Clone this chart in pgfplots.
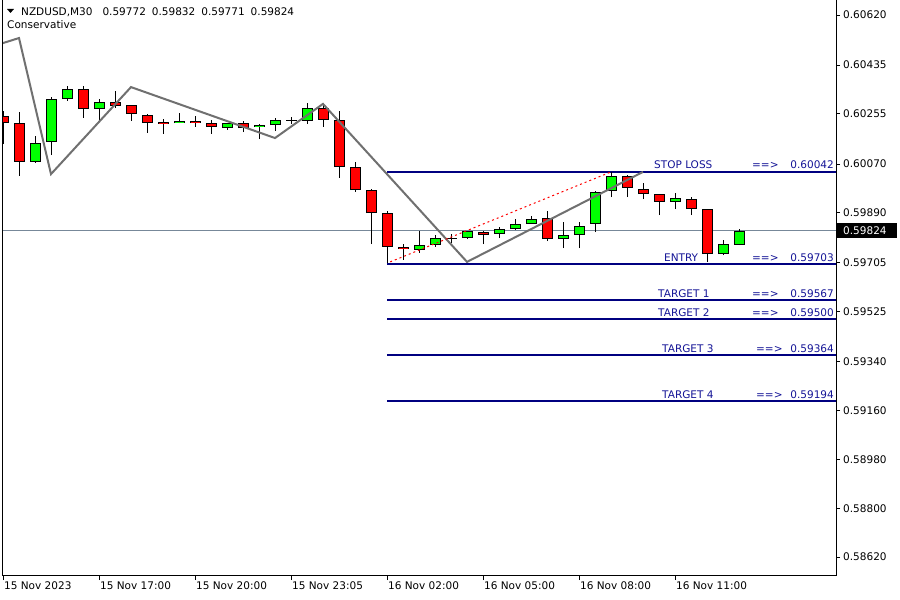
\documentclass[border=0pt]{standalone}
\usepackage{pgfplots}
\pgfplotsset{compat=1.18}
\usepackage{pgfplotstable}
\usepackage{fontspec}
\setmainfont{DejaVu Sans}
\definecolor{bullc}{RGB}{0,255,0}
\definecolor{bearc}{RGB}{255,0,0}
\definecolor{lvl}{RGB}{0,0,128}
\definecolor{lvltxt}{RGB}{20,20,150}
\definecolor{zz}{RGB}{112,112,112}
\definecolor{pline}{RGB}{119,136,153}

\pgfplotstableread{
x o h l c
2 0.60078 0.60174 0.60074 0.60148
3 0.60151 0.60317 0.60103 0.60310
4 0.60310 0.60358 0.60303 0.60347
6 0.60273 0.60310 0.60229 0.60299
11 0.60221 0.60258 0.60221 0.60229
14 0.60203 0.60221 0.60196 0.60221
16 0.60207 0.60218 0.60162 0.60214
17 0.60214 0.60240 0.60192 0.60233
19 0.60229 0.60295 0.60218 0.60277
26 0.59753 0.59823 0.59742 0.59771
27 0.59771 0.59808 0.59764 0.59797
29 0.59797 0.59823 0.59793 0.59823
31 0.59812 0.59838 0.59797 0.59830
32 0.59830 0.59867 0.59827 0.59849
33 0.59849 0.59878 0.59849 0.59867
35 0.59793 0.59856 0.59760 0.59808
36 0.59808 0.59856 0.59760 0.59841
37 0.59849 0.59971 0.59819 0.59967
38 0.59971 0.60041 0.59948 0.60026
42 0.59930 0.59963 0.59904 0.59945
45 0.59738 0.59790 0.59734 0.59775
46 0.59772 0.59832 0.59771 0.59824
}\bull

\pgfplotstableread{
x o h l c
0 0.60247 0.60266 0.60144 0.60221
1 0.60221 0.60262 0.60026 0.60078
5 0.60347 0.60358 0.60240 0.60273
7 0.60299 0.60340 0.60277 0.60284
8 0.60288 0.60288 0.60229 0.60255
9 0.60251 0.60255 0.60185 0.60221
10 0.60225 0.60236 0.60181 0.60218
12 0.60229 0.60247 0.60207 0.60221
13 0.60221 0.60233 0.60181 0.60207
15 0.60221 0.60229 0.60188 0.60203
20 0.60277 0.60292 0.60207 0.60233
21 0.60233 0.60266 0.60019 0.60059
22 0.60059 0.60078 0.59967 0.59974
23 0.59974 0.59978 0.59775 0.59889
24 0.59889 0.59897 0.59705 0.59764
25 0.59764 0.59775 0.59716 0.59757
30 0.59819 0.59823 0.59775 0.59808
34 0.59871 0.59897 0.59786 0.59793
39 0.60026 0.60030 0.59948 0.59982
40 0.59978 0.60000 0.59941 0.59959
41 0.59959 0.59959 0.59882 0.59930
43 0.59941 0.59948 0.59882 0.59904
44 0.59904 0.59904 0.59709 0.59738
}\bear

\pgfplotstableread{
x o h l c
18 0.60229 0.60244 0.60218 0.60229
28 0.59797 0.59812 0.59779 0.59797
}\doji

\pgfplotsset{
  wick/.style={draw=none, mark=none, forget plot,
    error bars/.cd, y dir=plus, y explicit, error mark=none,
    error bar style={line width=1bp, draw=black}},
  bodyblack/.style={draw=none, mark=none, forget plot,
    error bars/.cd, y dir=plus, y explicit, error mark=none,
    error bar style={line width=11bp, draw=black}},
  bodycol/.style={draw=none, mark=none, forget plot,
    error bars/.cd, y dir=plus, y explicit, error mark=none,
    error bar style={line width=9bp, draw=#1, shorten <=1bp, shorten >=1bp}},
}

\begin{document}
\begin{tikzpicture}
\useasboundingbox (0,0) rectangle (900bp,600bp);
\begin{axis}[
  at={(2bp,24bp)}, anchor=south west,
  scale only axis, width=834bp, height=576bp,
  xmin=-0.0625, xmax=52.0625, ymin=0.585499, ymax=0.606754,
  axis x line*=bottom, axis y line*=right,
  axis line style={line width=1bp, black},
  tick align=outside, major tick length=4bp,
  tick style={black, line width=1bp},
  xtick={0,6,12,18,24,30,36,42},
  xticklabels={15 Nov 2023,15 Nov 17:00,15 Nov 20:00,15 Nov 23:05,16 Nov 02:00,16 Nov 05:00,16 Nov 08:00,16 Nov 11:00},
  ytick={0.5862,0.588,0.5898,0.5916,0.5934,0.59525,0.59705,0.5989,0.6007,0.60255,0.60435,0.6062},
  yticklabels={0.58620,0.58800,0.58980,0.59160,0.59340,0.59525,0.59705,0.59890,0.60070,0.60255,0.60435,0.60620},
  scaled y ticks=false,
  ticklabel style={font=\fontsize{10.5bp}{12bp}\selectfont},
  xticklabel style={anchor=north west, inner sep=0pt, xshift=1bp, yshift=-2bp},
  yticklabel style={anchor=west, inner sep=0pt, xshift=3bp},
  clip mode=individual,
]
% current price line
\addplot[pline, line width=1bp, forget plot] coordinates {(-0.0625,0.59824) (52.0625,0.59824)};
% level lines
\addplot[lvl, line width=2bp, forget plot] coordinates {(24,0.60042) (52.0625,0.60042)};
\addplot[lvl, line width=2bp, forget plot] coordinates {(24,0.59703) (52.0625,0.59703)};
\addplot[lvl, line width=2bp, forget plot] coordinates {(24,0.59567) (52.0625,0.59567)};
\addplot[lvl, line width=2bp, forget plot] coordinates {(24,0.59500) (52.0625,0.59500)};
\addplot[lvl, line width=2bp, forget plot] coordinates {(24,0.59364) (52.0625,0.59364)};
\addplot[lvl, line width=2bp, forget plot] coordinates {(24,0.59194) (52.0625,0.59194)};
% wicks
\addplot[wick] table[x=x, y=l, y error plus expr=\thisrow{h}-\thisrow{l}] {\bull};
\addplot[wick] table[x=x, y=l, y error plus expr=\thisrow{h}-\thisrow{l}] {\bear};
\addplot[wick] table[x=x, y=l, y error plus expr=\thisrow{h}-\thisrow{l}] {\doji};
% bodies
\addplot[bodyblack] table[x=x, y=o, y error plus expr=\thisrow{c}-\thisrow{o}] {\bull};
\addplot[bodyblack] table[x=x, y=c, y error plus expr=\thisrow{o}-\thisrow{c}] {\bear};
\addplot[bodycol=bullc] table[x=x, y=o, y error plus expr=\thisrow{c}-\thisrow{o}] {\bull};
\addplot[bodycol=bearc] table[x=x, y=c, y error plus expr=\thisrow{o}-\thisrow{c}] {\bear};
\addplot[only marks, mark=-, mark size=5.5bp, mark options={draw=black, line width=1bp}, forget plot] table[x=x, y=o] {\doji};
% zigzag
\addplot[zz, line width=2bp, forget plot] coordinates {(-1,0.60498) (1,0.60535) (3,0.60033) (8,0.60354) (17,0.60166) (20,0.60292) (29,0.59709) (40,0.60041)};
% trend dotted line
\addplot[bearc, line width=1bp, dash pattern=on 2bp off 3bp, forget plot] coordinates {(24.2,0.59709) (38,0.60041)};
% left border
\draw[black, line width=1bp] (rel axis cs:0,0) -- (rel axis cs:0,1);
% level labels
\begin{scope}[every node/.style={font=\fontsize{10.5bp}{12bp}\selectfont, text=lvltxt, inner sep=0pt}]
\node[anchor=base west] at (axis cs:40.69,0.60042) [yshift=3bp] {STOP LOSS};
\node[anchor=base west] at (axis cs:46.81,0.60042) [yshift=3bp] {==>};
\node[anchor=base east] at (axis cs:51.94,0.60042) [yshift=3bp] {0.60042};
\node[anchor=base west] at (axis cs:41.31,0.59703) [yshift=2.5bp] {ENTRY};
\node[anchor=base west] at (axis cs:46.81,0.59703) [yshift=2.5bp] {==>};
\node[anchor=base east] at (axis cs:51.94,0.59703) [yshift=2.5bp] {0.59703};
\node[anchor=base west] at (axis cs:40.94,0.59567) [yshift=2.5bp] {TARGET 1};
\node[anchor=base west] at (axis cs:46.81,0.59567) [yshift=2.5bp] {==>};
\node[anchor=base east] at (axis cs:51.94,0.59567) [yshift=2.5bp] {0.59567};
\node[anchor=base west] at (axis cs:40.94,0.59500) [yshift=2.5bp] {TARGET 2};
\node[anchor=base west] at (axis cs:46.81,0.59500) [yshift=2.5bp] {==>};
\node[anchor=base east] at (axis cs:51.94,0.59500) [yshift=2.5bp] {0.59500};
\node[anchor=base west] at (axis cs:41.19,0.59364) [yshift=2.5bp] {TARGET 3};
\node[anchor=base west] at (axis cs:47.06,0.59364) [yshift=2.5bp] {==>};
\node[anchor=base east] at (axis cs:51.94,0.59364) [yshift=2.5bp] {0.59364};
\node[anchor=base west] at (axis cs:41.19,0.59194) [yshift=2.5bp] {TARGET 4};
\node[anchor=base west] at (axis cs:47.06,0.59194) [yshift=2.5bp] {==>};
\node[anchor=base east] at (axis cs:51.94,0.59194) [yshift=2.5bp] {0.59194};
\end{scope}
\end{axis}
% header texts
\fill[black] (7bp,591bp) -- (14bp,591bp) -- (10.5bp,587bp) -- cycle;
\node[anchor=base west, inner sep=0pt, font=\fontsize{10.5bp}{12bp}\selectfont] at (21bp,584bp)
  {NZDUSD,M30\hspace{10bp}0.59772\hspace{6bp}0.59832\hspace{6bp}0.59771\hspace{6bp}0.59824};
\node[anchor=base west, inner sep=0pt, font=\fontsize{10.5bp}{12bp}\selectfont] at (7bp,571bp) {Conservative};
% current price box
\node[anchor=west, fill=black, text=white, inner sep=0pt, minimum height=15bp, text width=61bp,
  font=\fontsize{10.5bp}{12bp}\selectfont] at (836bp,369.5bp) {\hspace*{7bp}0.59824};
\end{tikzpicture}
\end{document}
